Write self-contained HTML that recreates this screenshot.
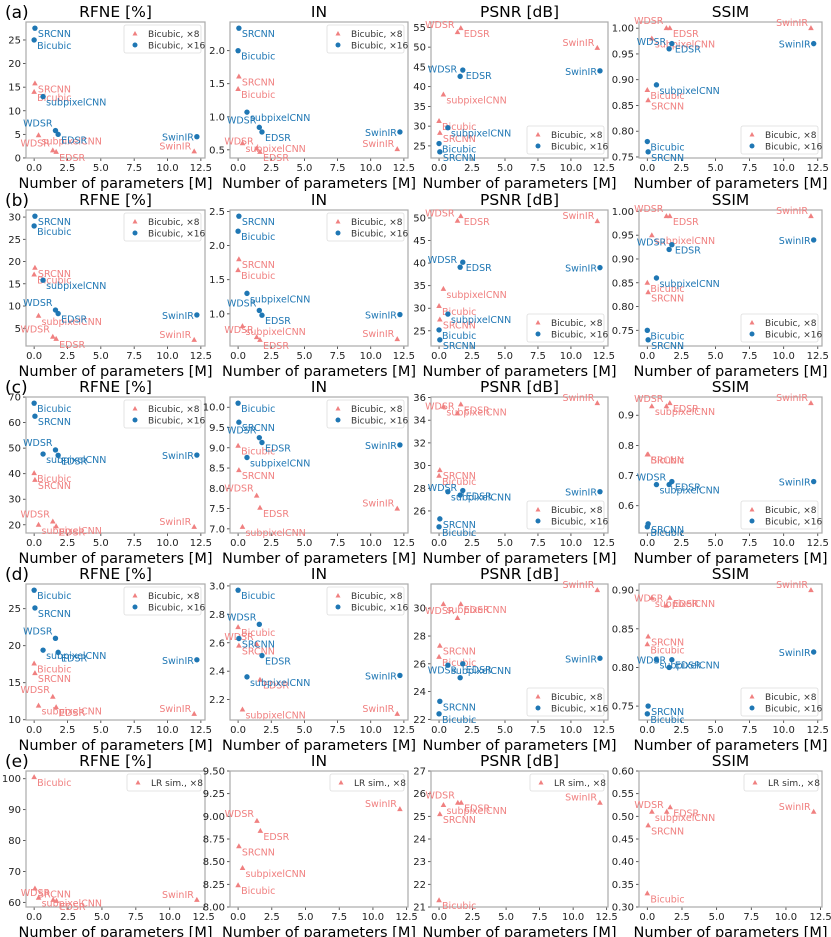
<!DOCTYPE html>
<html><head><meta charset="utf-8"><style>
body{margin:0;background:#fff}
svg{display:block;font-family:"DejaVu Sans","Liberation Sans",sans-serif}
</style></head><body>
<svg id="fig" width="831" height="937" viewBox="0 0 831 937"></svg>
<script>
const methods = ["Bicubic","SRCNN","subpixelCNN","WDSR","EDSR","SwinIR"];
const paramsX8 = [0, 0.06, 0.33, 1.4, 1.65, 12.0];
const paramsX16 = [0, 0.06, 0.67, 1.6, 1.8, 12.2];
const xTicks = [0, 2.5, 5, 7.5, 10, 12.5];

const rfneA8=[14,15.8,4.8,1.6,1.3,1.4], rfneA16=[25,27.5,13,5.8,5.0,4.5];
const inA8=[1.42,1.61,0.6,0.52,0.47,0.51], inA16=[2.0,2.34,1.07,0.84,0.77,0.77];
const psnrA8=[31.3,28.3,38,53.8,54.8,49.8], psnrA16=[25.6,23.5,29.6,42.6,44.2,44];
const ssimA8=[0.88,0.86,0.98,1.0,1.0,1.0], ssimA16=[0.78,0.76,0.89,0.96,0.97,0.97];

const rfneB8=[17.1,18.6,7.8,3.1,2.6,2.4], rfneB16=[28,30.2,15.8,9.1,8.3,8.0];
const inB8=[1.64,1.80,0.82,0.66,0.62,0.63], inB16=[2.21,2.43,1.30,1.05,0.98,0.99];
const psnrB8=[30.5,27.5,34.3,49.4,50.4,49.3], psnrB16=[25.2,23.0,28.7,39.1,40.2,39.0];
const ssimB8=[0.85,0.83,0.95,0.99,0.99,0.99], ssimB16=[0.75,0.73,0.86,0.92,0.93,0.94];

const rfneC8=[40.2,37.6,20,21.3,19.4,19.2], rfneC16=[67.6,62.5,47.7,49.3,47.2,47.3];
const inC8=[9.05,8.45,7.05,7.82,7.52,7.5], inC16=[10.1,9.63,8.76,9.25,9.13,9.07];
const psnrC8=[29.1,29.6,35.2,34.6,35.4,35.5], psnrC16=[24.6,25.3,27.7,27.4,27.8,27.7];
const ssimC8=[0.77,0.77,0.93,0.93,0.94,0.94], ssimC16=[0.53,0.54,0.67,0.67,0.68,0.68];

const rfneD8=[17.6,16.3,11.9,13.1,11.7,10.8], rfneD16=[27.5,25.1,19.4,21.0,19.1,18.1];
const inD8=[2.71,2.58,2.13,2.59,2.34,2.10], inD16=[2.97,2.63,2.36,2.73,2.51,2.37];
const psnrD8=[26.5,27.3,30.3,29.3,30.3,31.3], psnrD16=[22.4,23.3,25.9,25.0,26.0,26.4];
const ssimD8=[0.83,0.84,0.89,0.88,0.89,0.90], ssimD16=[0.74,0.75,0.81,0.80,0.81,0.82];

const rfneE8=[100.5,64.5,61.5,60.8,60.5,60.8];
const inE8=[8.24,8.67,8.43,8.95,8.84,9.08];
const psnrE8=[21.3,25.1,25.5,25.6,25.6,25.6];
const ssimE8=[0.33,0.48,0.51,0.51,0.52,0.51];

const RED="#f08080", BLUE="#1f77b4";
const NS="http://www.w3.org/2000/svg";
const svg=document.getElementById('fig');
function mk(tag,attrs,parent,text){const e=document.createElementNS(NS,tag);for(const k in attrs)e.setAttribute(k,attrs[k]);if(text!==undefined)e.textContent=text;(parent||svg).appendChild(e);return e;}

const rowTops=[22,210,397,584,771], rowH=136;
const colL=[26,230,431,639], colR=[205,408,608,822];
const titles=["RFNE [%]","IN","PSNR [dB]","SSIM"];
const rows=[
 {tag:"(a)",d:[[rfneA8,rfneA16,5,0],[inA8,inA16,0.5,1],[psnrA8,psnrA16,5,0],[ssimA8,ssimA16,0.05,2]]},
 {tag:"(b)",d:[[rfneB8,rfneB16,5,0],[inB8,inB16,0.5,1],[psnrB8,psnrB16,5,0],[ssimB8,ssimB16,0.05,2]]},
 {tag:"(c)",d:[[rfneC8,rfneC16,10,0],[inC8,inC16,0.5,1],[psnrC8,psnrC16,2,0],[ssimC8,ssimC16,0.1,1]]},
 {tag:"(d)",d:[[rfneD8,rfneD16,5,0],[inD8,inD16,0.2,1],[psnrD8,psnrD16,2,0],[ssimD8,ssimD16,0.05,2]]},
 {tag:"(e)",d:[[rfneE8,null,10,0,null],[inE8,null,0.25,2,[8,9.5]],[psnrE8,null,1,0,[21,27]],[ssimE8,null,0.05,2,[0.3,0.6]]]}
];

rows.forEach((row,ri)=>{
 const top=rowTops[ri], bot=top+rowH;
 const pl=mk('text',{x:5,y:top-4,'font-size':17,fill:'#000'},svg,row.tag);
 
 
 row.d.forEach((pd,ci)=>{
  const [v8,v16,step,dec,fixed]=pd;
  const L=colL[ci], R=colR[ci];
  const g=mk('g',{});
  
  
  const single=!v16;
  const xmax=single?12.0:12.2, xpad=xmax*0.05;
  const x0=-xpad, x1=xmax+xpad;
  let all=v8.concat(v16||[]);
  let lo=Math.min(...all), hi=Math.max(...all), p=(hi-lo)*0.05;
  let y0=lo-p, y1=hi+p;
  if(fixed){y0=fixed[0];y1=fixed[1];}
  const sx=v=>L+(v-x0)/(x1-x0)*(R-L);
  const sy=v=>bot-(v-y0)/(y1-y0)*(bot-top);
  const t=mk('text',{x:(L+R)/2,y:top-5,'text-anchor':'middle','font-size':15.5,fill:'#000'},g,titles[ci]);
  
  
  const xl=mk('text',{x:(L+R)/2,y:bot+30,'text-anchor':'middle','font-size':14.5,fill:'#000'},g,"Number of parameters [M]");
  
  
  xTicks.forEach(tv=>{const X=sx(tv);mk('line',{x1:X,x2:X,y1:bot,y2:bot+3,stroke:'#333','stroke-width':0.8},g);
   const tl=mk('text',{x:X,y:bot+13,'text-anchor':'middle','font-size':10,fill:'#222'},g,tv.toFixed(1));
   
   });
  const s0=Math.ceil((y0-1e-9)/step);
  for(let k=s0;k*step<=y1+1e-9;k++){const tv=k*step,Y=sy(tv);
   mk('line',{x1:L-3,x2:L,y1:Y,y2:Y,stroke:'#333','stroke-width':0.8},g);
   const tl=mk('text',{x:L-5,y:Y+3.5,'text-anchor':'end','font-size':10,fill:'#222'},g,tv.toFixed(dec));
   
   }
  mk('rect',{x:L,y:top,width:R-L,height:rowH,fill:'none',stroke:'#aaa','stroke-width':1.2},g);
  function series(vals,xs,col,tri,nm){vals.forEach((v,i)=>{const X=sx(xs[i]),Y=sy(v);let m;
    if(tri)m=mk('polygon',{points:`${X},${Y-3} ${X-2.8},${Y+2} ${X+2.8},${Y+2}`,fill:col},g);
    else m=mk('circle',{cx:X,cy:Y,r:2.7,fill:col},g);
    
    
    const left=(i===5||i===3);
    const lb=mk('text',{x:left?X-3:X+3,y:left?Y+(i===5?(tri?-2:4):-4):Y+9,'text-anchor':left?'end':'start','font-size':9.5,fill:col},g,methods[i]);
    
    });}
  series(v8,paramsX8,RED,true,'point-x8');
  if(v16)series(v16,paramsX16,BLUE,false,'point-x16');
  const lw=single?74:77, lh=single?17:28;
  const upper=single||ci<2;
  const lx=R-lw-4, ly=upper?top+3:bot-lh-4;
  const lg=mk('g',{},g);
  
  
  mk('rect',{x:lx,y:ly,width:lw,height:lh,fill:'#fff',stroke:'#ddd','stroke-width':0.8,rx:2},lg);
  const e1y=ly+9;
  mk('polygon',{points:`${lx+11},${e1y-3} ${lx+8.5},${e1y+1.5} ${lx+13.5},${e1y+1.5}`,fill:RED},lg);
  mk('text',{x:lx+24,y:e1y+3,'font-size':9,fill:'#333'},lg,single?"LR sim., ×8":"Bicubic, ×8");
  if(!single){mk('circle',{cx:lx+11,cy:e1y+11,r:2.5,fill:BLUE},lg);
   mk('text',{x:lx+24,y:e1y+14.5,'font-size':9,fill:'#333'},lg,"Bicubic, ×16");}
 });
});
</script>
</body></html>
